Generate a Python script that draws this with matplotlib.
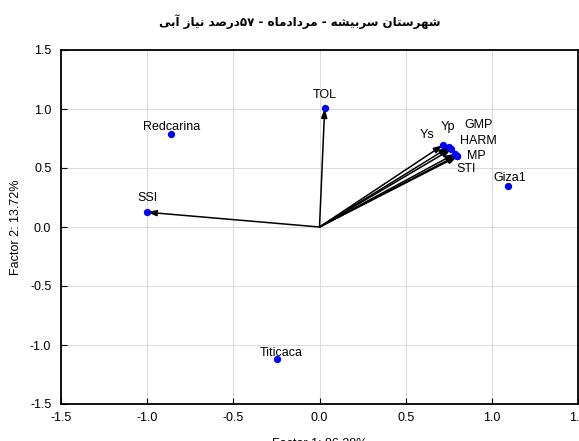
import matplotlib

matplotlib.use("Agg", force=True)
import matplotlib.pyplot as plt

# Trait vectors (drawn as arrows from the origin)
traits = ["Yp", "Ys", "GMP", "HARM", "MP", "STI", "TOL", "SSI"]
trait_f1 = [0.75, 0.717, 0.765, 0.785, 0.795, 0.80, 0.03, -1.0]
trait_f2 = [0.675, 0.695, 0.66, 0.62, 0.605, 0.598, 1.006, 0.125]

# Genotype scores (points only)
genotypes = ["Redcarina", "Titicaca", "Giza1"]
geno_f1 = [-0.86, -0.245, 1.092]
geno_f2 = [0.788, -1.119, 0.35]

# label offsets in pixels
label_offsets = {
    "Yp": (-1, 20), "Ys": (-16, 10), "GMP": (27, 24), "HARM": (24, 13),
    "MP": (20, 0), "STI": (9, -13), "TOL": (0, 13), "SSI": (0, 14),
    "Redcarina": (0, 7), "Titicaca": (4, 6), "Giza1": (2, 8),
}

ticks = [-1.5, -1.0, -0.5, 0.0, 0.5, 1.0, 1.5]
title_text = "شهرستان سربیشه - مردادماه - ۵۷درصد نیاز آبی"

# isolated, final, initial, medial presentation forms
FORMS = {
    "ا": ("\uFE8D", "\uFE8E", None, None),
    "آ": ("\uFE81", "\uFE82", None, None),
    "د": ("\uFEA9", "\uFEAA", None, None),
    "ر": ("\uFEAD", "\uFEAE", None, None),
    "ز": ("\uFEAF", "\uFEB0", None, None),
    "ب": ("\uFE8F", "\uFE90", "\uFE91", "\uFE92"),
    "ت": ("\uFE95", "\uFE96", "\uFE97", "\uFE98"),
    "س": ("\uFEB1", "\uFEB2", "\uFEB3", "\uFEB4"),
    "ش": ("\uFEB5", "\uFEB6", "\uFEB7", "\uFEB8"),
    "ص": ("\uFEB9", "\uFEBA", "\uFEBB", "\uFEBC"),
    "م": ("\uFEE1", "\uFEE2", "\uFEE3", "\uFEE4"),
    "ن": ("\uFEE5", "\uFEE6", "\uFEE7", "\uFEE8"),
    "ه": ("\uFEE9", "\uFEEA", "\uFEEB", "\uFEEC"),
    "ی": ("\uFEEF", "\uFEF0", "\uFEF3", "\uFEF4"),
}


def shape_word(word):
    out = []
    for i, ch in enumerate(word):
        if ch not in FORMS:
            out.append(ch)
            continue
        iso, fin, ini, med = FORMS[ch]
        prev_joins = i > 0 and word[i - 1] in FORMS and FORMS[word[i - 1]][2] is not None
        next_joins = ini is not None and i + 1 < len(word) and word[i + 1] in FORMS
        if prev_joins and next_joins:
            out.append(med)
        elif prev_joins:
            out.append(fin)
        elif next_joins:
            out.append(ini)
        else:
            out.append(iso)
    return out


def visual_rtl(text):
    words = []
    for token in reversed(text.split(" ")):
        runs, cur, cur_digit = [], [], None
        for ch in token:
            is_digit = "\u06F0" <= ch <= "\u06F9"
            if cur and is_digit != cur_digit:
                runs.append((cur_digit, "".join(cur)))
                cur = []
            cur.append(ch)
            cur_digit = is_digit
        if cur:
            runs.append((cur_digit, "".join(cur)))
        parts = []
        for is_digit, run in reversed(runs):
            parts.append(run if is_digit else "".join(reversed(shape_word(run))))
        words.append("".join(parts))
    return " ".join(words)


plt.rcParams["font.family"] = ["Liberation Sans", "DejaVu Sans"]

fig = plt.figure(figsize=(5.79, 4.41), dpi=100)
ax = fig.add_axes([61 / 579, 1 - 404 / 441, 517 / 579, 354 / 441])

for x, y in zip(trait_f1, trait_f2):
    ax.annotate("", xy=(x, y), xytext=(0, 0),
                arrowprops=dict(arrowstyle="-|>,head_length=0.55,head_width=0.18",
                                color="black", lw=1.1, shrinkA=0, shrinkB=0))

ax.scatter(trait_f1 + geno_f1, trait_f2 + geno_f2, s=18, color="#0000ff", zorder=3)

for name, x, y in zip(traits + genotypes, trait_f1 + geno_f1, trait_f2 + geno_f2):
    ax.annotate(name, xy=(x, y), xytext=label_offsets[name], textcoords="offset pixels",
                ha="center", va="center", fontsize=9)

ax.set_xlim(-1.5, 1.5)
ax.set_ylim(-1.5, 1.5)
ax.set_xticks(ticks)
ax.set_yticks(ticks)
ax.set_xticklabels([f"{t:.1f}" for t in ticks])
ax.set_yticklabels([f"{t:.1f}" for t in ticks])
ax.grid(True, color="#dcdcdc", lw=0.8)
ax.set_axisbelow(True)
ax.tick_params(direction="in", length=4, width=0.8, labelsize=9)
ax.tick_params(axis="x", pad=6)
ax.tick_params(axis="y", pad=7)
for spine in ax.spines.values():
    spine.set_linewidth(1.3)

ax.set_xlabel("Factor 1: 86.28%", fontsize=9, labelpad=10)
ax.set_ylabel("Factor 2: 13.72%", fontsize=9, labelpad=6)

fig.text(300 / 579, 1 - 22 / 441, visual_rtl(title_text), ha="center", va="center",
         fontsize=8.6, fontweight="bold", family="DejaVu Sans")

fig.savefig("out.png", dpi=100)
